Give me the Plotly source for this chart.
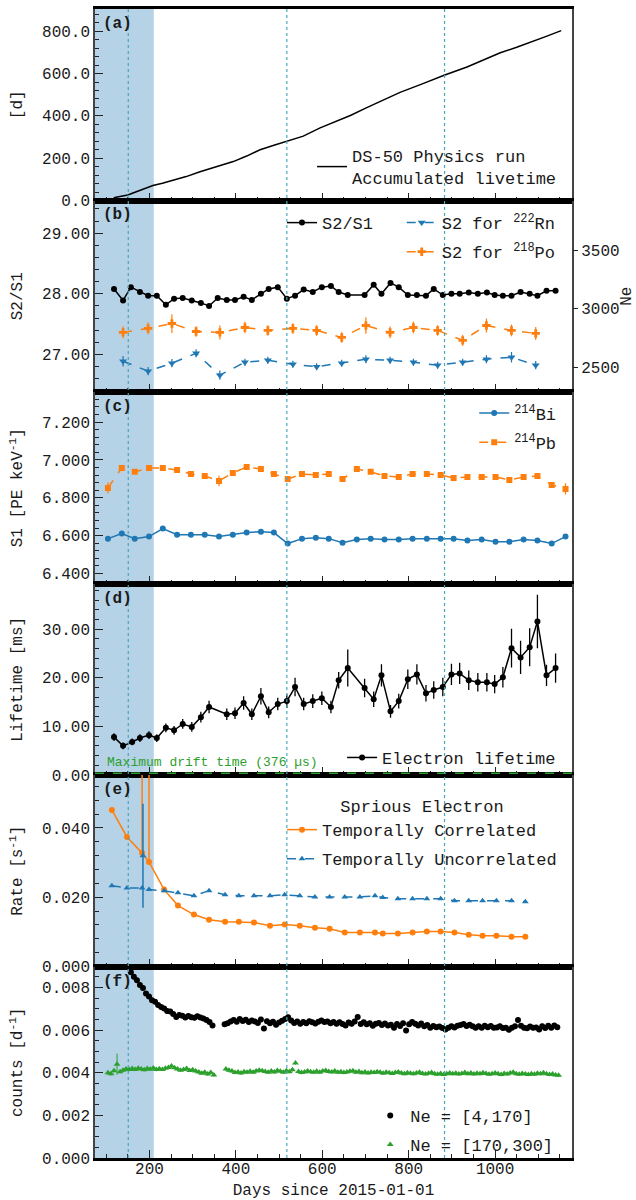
import plotly.graph_objects as go
from plotly.subplots import make_subplots

# ---------------- data ----------------
# (a) accumulated livetime
days_a = [108, 113, 120, 130, 143, 150, 165, 180, 194, 208, 230, 254, 285, 317, 355, 394, 425, 456,
          490, 518, 556, 595, 625, 665, 703, 740, 780, 830, 882, 935, 975, 1012, 1050, 1088, 1120, 1153]
livetime = [0, 2, 14, 18, 22, 26, 38, 50, 62, 71, 82, 95, 113, 136, 158, 184, 210, 240,
            262, 280, 304, 343, 367, 402, 439, 473, 511, 550, 592, 631, 665, 698, 724, 751, 777, 803]

# (b) S2/S1 and S2 (Ne)
days_b = [118, 139, 157, 178, 197, 217, 238, 257, 277, 298, 319, 338, 358, 379, 398, 418, 437, 458,
          476, 497, 518, 537, 557, 578, 599, 620, 638, 659, 698, 719, 737, 758, 777, 798, 819, 840,
          858, 879, 899, 918, 939, 960, 981, 999, 1018, 1038, 1059, 1080, 1098, 1119, 1140]
s2s1 = [28.08, 27.89, 28.11, 28.03, 27.97, 27.97, 27.82, 27.92, 27.93, 27.89, 27.85, 27.80, 27.93,
        27.90, 27.90, 27.95, 27.90, 28.00, 28.08, 28.11, 27.92, 27.97, 28.07, 28.03, 28.11, 28.13,
        28.03, 27.98, 27.98, 28.15, 28.00, 28.18, 28.11, 27.98, 27.98, 27.97, 28.08, 27.98, 28.00,
        28.00, 28.02, 28.00, 28.02, 27.98, 27.97, 27.97, 28.03, 28.00, 27.97, 28.05, 28.05]
days_s2 = [139, 197, 252, 308, 363, 421, 474, 532, 587, 645, 701, 757, 811, 867, 925, 980, 1038, 1094]
s2_po = [2797, 2831, 2873, 2805, 2797, 2839, 2814, 2831, 2814, 2754, 2856, 2797, 2839, 2814, 2729,
         2856, 2814, 2788]
s2_po_err = [50, 50, 80, 45, 60, 50, 45, 45, 45, 45, 70, 50, 50, 45, 45, 60, 50, 55]
s2_rn = [2551, 2466, 2534, 2619, 2432, 2542, 2559, 2525, 2504, 2534, 2568, 2559, 2542, 2517, 2542,
         2568, 2585, 2517]
s2_rn_err = [45, 35, 35, 35, 40, 30, 30, 30, 30, 30, 35, 30, 30, 30, 30, 35, 45, 35]

# (c) S1 light yield
days_c = [104, 136, 166, 199, 231, 264, 296, 328, 361, 393, 425, 458, 488, 520, 553, 585, 615,
          647, 680, 712, 744, 777, 809, 842, 874, 904, 936, 969, 1001, 1033, 1066, 1098, 1131, 1163]
s1_pb = [6.852, 6.958, 6.937, 6.958, 6.958, 6.947, 6.926, 6.915, 6.889, 6.931, 6.963, 6.952, 6.926,
         6.899, 6.926, 6.920, 6.926, 6.899, 6.952, 6.937, 6.915, 6.910, 6.926, 6.926, 6.920, 6.905,
         6.910, 6.910, 6.910, 6.894, 6.910, 6.915, 6.868, 6.847]
s1_pb_err = [0.030, 0.012, 0.010, 0.010, 0.010, 0.010, 0.010, 0.012, 0.028, 0.012, 0.010, 0.010,
             0.010, 0.012, 0.010, 0.010, 0.010, 0.012, 0.010, 0.010, 0.010, 0.010, 0.010, 0.010,
             0.010, 0.010, 0.010, 0.010, 0.010, 0.012, 0.010, 0.010, 0.012, 0.030]
s1_bi = [6.584, 6.611, 6.584, 6.595, 6.637, 6.605, 6.605, 6.605, 6.595, 6.605, 6.616, 6.621, 6.616,
         6.558, 6.584, 6.589, 6.584, 6.563, 6.579, 6.584, 6.579, 6.579, 6.584, 6.584, 6.584, 6.584,
         6.574, 6.579, 6.568, 6.568, 6.579, 6.574, 6.558, 6.595]

# (d) electron lifetime
days_d = [118, 139, 160, 178, 199, 217, 238, 257, 277, 298, 319, 338, 379, 398, 418, 437, 458, 476,
          497, 518, 537, 557, 578, 599, 620, 638, 659, 698, 719, 737, 758, 777, 798, 819, 840, 858,
          879, 899, 918, 939, 960, 981, 999, 1018, 1038, 1059, 1080, 1098, 1119, 1140]
lifetime = [7.8, 6.0, 6.8, 7.6, 8.2, 7.6, 9.7, 9.2, 10.5, 9.9, 11.9, 14.0, 12.5, 12.7, 14.8, 12.5,
            16.2, 12.9, 14.6, 15.2, 18.1, 14.6, 15.2, 15.8, 14.0, 19.5, 22.0, 17.9, 15.6, 20.5, 13.1,
            15.2, 19.7, 20.7, 16.8, 17.5, 18.1, 20.7, 20.9, 19.5, 19.1, 19.1, 18.7, 20.1, 26.1, 24.2,
            26.3, 31.6, 20.5, 22.0]
lifetime_err = [0.8, 0.7, 0.7, 0.8, 0.8, 0.8, 0.9, 0.9, 1.0, 1.0, 1.1, 1.3, 1.2, 1.2, 1.4, 1.2, 1.7,
                1.2, 1.3, 1.4, 1.9, 1.3, 1.4, 1.4, 1.3, 1.7, 3.8, 1.9, 1.6, 2.3, 1.3, 1.5, 2.0, 2.1,
                1.7, 1.8, 1.9, 2.2, 2.2, 2.0, 1.9, 1.9, 1.9, 2.1, 4.0, 3.4, 3.9, 5.5, 2.2, 3.0]
max_drift_ms = 0.376

# (e) spurious electron rates
days_e = [113, 148, 183, 199, 234, 266, 303, 338, 375, 407, 442, 479, 513, 548, 583, 617, 652, 687,
          722, 740, 775, 809, 842, 874, 906, 939, 971, 1003, 1038, 1070]
rate_corr = [0.0452, 0.0374, 0.0328, 0.0302, 0.0222, 0.0176, 0.0150, 0.0135, 0.0129, 0.0129, 0.0127,
             0.0118, 0.0121, 0.0118, 0.0112, 0.0109, 0.0098, 0.0098, 0.0098, 0.0095, 0.0095, 0.0098,
             0.0101, 0.0101, 0.0098, 0.0092, 0.0089, 0.0089, 0.0086, 0.0086]
rate_corr_err_up = [0, 0, 0.06, 0.06, 0, 0, 0, 0, 0, 0, 0, 0, 0, 0, 0, 0, 0, 0, 0, 0, 0, 0, 0, 0,
                    0, 0, 0, 0, 0, 0]
rate_uncorr = [0.0233, 0.0227, 0.0227, 0.0222, 0.0219, 0.0213, 0.0204, 0.0219, 0.0207, 0.0204,
               0.0204, 0.0204, 0.0207, 0.0204, 0.0201, 0.0201, 0.0201, 0.0201, 0.0204, 0.0199,
               0.0196, 0.0196, 0.0196, 0.0196, 0.0190, 0.0190, 0.0190, 0.0190, 0.0190, 0.0187]
days_e_extra = [185]
rate_uncorr_extra = [0.032]
rate_uncorr_extra_err = [0.015]

# (f) counts per day
days_f_low = [d for d in range(150, 1145, 7) if not 350 < d < 372]
counts_low = [0.00895, 0.00872, 0.00851, 0.00834, 0.00812, 0.00798, 0.00772, 0.00758, 0.00741, 0.00733,
              0.00718, 0.00709, 0.00702, 0.00690, 0.00688, 0.00676, 0.00662, 0.00671, 0.00668, 0.00659,
              0.00667, 0.00661, 0.00658, 0.00666, 0.00660, 0.00655, 0.00648, 0.00638, 0.00622,
              0.00628, 0.00633, 0.00641, 0.00648, 0.00640, 0.00652, 0.00643, 0.00649, 0.00638, 0.00646,
              0.00641, 0.00634, 0.00650, 0.00608, 0.00642, 0.00632, 0.00640, 0.00626, 0.00636, 0.00644,
              0.00652, 0.00661, 0.00645, 0.00634, 0.00641, 0.00630, 0.00639, 0.00633, 0.00642, 0.00637,
              0.00631, 0.00640, 0.00646, 0.00638, 0.00641, 0.00632, 0.00639, 0.00630, 0.00637, 0.00629,
              0.00622, 0.00636, 0.00630, 0.00641, 0.00662, 0.00629, 0.00637, 0.00628, 0.00633, 0.00621,
              0.00630, 0.00634, 0.00624, 0.00631, 0.00622, 0.00626, 0.00612, 0.00629, 0.00620, 0.00632,
              0.00598, 0.00628, 0.00638, 0.00630, 0.00622, 0.00631, 0.00619, 0.00624, 0.00612, 0.00620,
              0.00614, 0.00617, 0.00610, 0.00603, 0.00611, 0.00618, 0.00613, 0.00621, 0.00624, 0.00629,
              0.00620, 0.00626, 0.00618, 0.00611, 0.00619, 0.00612, 0.00621, 0.00614, 0.00620, 0.00611,
              0.00613, 0.00619, 0.00610, 0.00612, 0.00602, 0.00611, 0.00618, 0.00648, 0.00621, 0.00612,
              0.00609, 0.00617, 0.00611, 0.00613, 0.00603, 0.00619, 0.00610, 0.00621, 0.00612, 0.00622,
              0.00614]
days_f_high = [d for d in range(104, 1150, 7) if not 352 < d < 373]
counts_high = [0.00400, 0.00395, 0.00410, 0.00440, 0.00405, 0.00412, 0.00418, 0.00415, 0.00420, 0.00416,
               0.00421, 0.00418, 0.00414, 0.00420, 0.00417, 0.00422, 0.00415, 0.00419, 0.00416, 0.00421,
               0.00425, 0.00432, 0.00424, 0.00418, 0.00412, 0.00416, 0.00420, 0.00411, 0.00414, 0.00409,
               0.00404, 0.00398, 0.00402, 0.00394, 0.00401, 0.00390,
               0.00418, 0.00412, 0.00408, 0.00401, 0.00404, 0.00399, 0.00405, 0.00402, 0.00407, 0.00403,
               0.00409, 0.00412, 0.00410, 0.00406, 0.00402, 0.00408, 0.00404, 0.00411, 0.00407, 0.00403,
               0.00410, 0.00405, 0.00414, 0.00446, 0.00406, 0.00401, 0.00404, 0.00409, 0.00405, 0.00402,
               0.00407, 0.00403, 0.00409, 0.00411, 0.00406, 0.00404, 0.00408, 0.00402, 0.00405, 0.00401,
               0.00404, 0.00407, 0.00410, 0.00403, 0.00406, 0.00400, 0.00404, 0.00399, 0.00403, 0.00401,
               0.00405, 0.00402, 0.00398, 0.00403, 0.00400, 0.00397, 0.00401, 0.00404, 0.00399, 0.00396,
               0.00400, 0.00398, 0.00395, 0.00399, 0.00402, 0.00397, 0.00394, 0.00398, 0.00401, 0.00396,
               0.00393, 0.00397, 0.00392, 0.00396, 0.00399, 0.00395, 0.00398, 0.00394, 0.00397, 0.00401,
               0.00396, 0.00399, 0.00394, 0.00398, 0.00395, 0.00400, 0.00397, 0.00393, 0.00396, 0.00399,
               0.00395, 0.00392, 0.00397, 0.00394, 0.00399, 0.00403, 0.00396, 0.00393, 0.00397, 0.00394,
               0.00392, 0.00396, 0.00393, 0.00398, 0.00395, 0.00400, 0.00396, 0.00392, 0.00394, 0.00390,
               0.00388]
counts_high_err = [0.00008] * 3 + [0.0005] + [0.00008] * (len(counts_high) - 4)

# special periods
shade_days = [74, 210]
marker_days = [151, 518, 883]

# ---------------- style ----------------
FONT = "Liberation Mono, Courier New, monospace"
TXT = "#1a1a1a"
BLUE = "#1f77b4"
ORANGE = "#ff7f0e"
GREEN = "#2ca02c"
BLACK = "black"

fig = make_subplots(rows=6, cols=1, shared_xaxes=True, vertical_spacing=0,
                    specs=[[{}], [{"secondary_y": True}], [{}], [{}], [{}], [{}]])

# (a)
fig.add_trace(go.Scatter(x=days_a, y=livetime, mode="lines", line=dict(color=BLACK, width=1.5),
                         name="DS-50 Physics run<br>Accumulated livetime", legend="legend"), row=1, col=1)

# (b)
fig.add_trace(go.Scatter(x=days_b, y=s2s1, mode="lines+markers", name="S2/S1",
                         line=dict(color=BLACK, width=1.5), marker=dict(color=BLACK, size=6),
                         error_y=dict(type="constant", value=0.02, color=BLACK, thickness=1.2, width=0),
                         legend="legend2"), row=2, col=1, secondary_y=False)
fig.add_trace(go.Scatter(x=days_s2, y=s2_rn, mode="lines+markers", name="S2 for <sup>222</sup>Rn",
                         line=dict(color=BLUE, width=1.5, dash="dash"),
                         marker=dict(color=BLUE, size=7, symbol="triangle-down"),
                         error_y=dict(type="data", array=s2_rn_err, color=BLUE, thickness=1.2, width=0),
                         legend="legend3", legendgroup="rn"), row=2, col=1, secondary_y=True)
fig.add_trace(go.Scatter(x=days_s2, y=s2_po, mode="lines+markers", name="S2 for <sup>218</sup>Po",
                         line=dict(color=ORANGE, width=1.5, dash="dash"),
                         marker=dict(color=ORANGE, size=7, symbol="cross"),
                         error_y=dict(type="data", array=s2_po_err, color=ORANGE, thickness=1.2, width=0),
                         legend="legend3", legendgroup="po"), row=2, col=1, secondary_y=True)

# (c)
fig.add_trace(go.Scatter(x=days_c, y=s1_bi, mode="lines+markers", name="<sup>214</sup>Bi",
                         line=dict(color=BLUE, width=1.5), marker=dict(color=BLUE, size=6),
                         error_y=dict(type="constant", value=0.006, color=BLUE, thickness=1.2, width=0),
                         legend="legend4", legendgroup="bi"), row=3, col=1)
fig.add_trace(go.Scatter(x=days_c, y=s1_pb, mode="lines+markers", name="<sup>214</sup>Pb",
                         line=dict(color=ORANGE, width=1.5, dash="dash"),
                         marker=dict(color=ORANGE, size=6, symbol="square"),
                         error_y=dict(type="data", array=s1_pb_err, color=ORANGE, thickness=1.2, width=0),
                         legend="legend4", legendgroup="pb"), row=3, col=1)

# (d)
fig.add_trace(go.Scatter(x=days_d, y=lifetime, mode="lines+markers", name="Electron lifetime",
                         line=dict(color=BLACK, width=1.5), marker=dict(color=BLACK, size=6),
                         error_y=dict(type="data", array=lifetime_err, color=BLACK, thickness=1.3, width=0),
                         legend="legend5"), row=4, col=1)
fig.add_hline(y=max_drift_ms, row=4, col=1, line=dict(color=GREEN, width=1.5, dash="dash"))
fig.add_annotation(row=4, col=1, xref="x domain", x=0.02, y=max_drift_ms, yanchor="bottom", xanchor="left",
                   text="Maximum drift time (376 µs)", showarrow=False, yshift=1,
                   font=dict(family=FONT, size=13, color=GREEN))

# (e)
fig.add_trace(go.Scatter(x=days_e, y=rate_corr, mode="lines+markers", name="Temporally Correlated",
                         line=dict(color=ORANGE, width=1.5), marker=dict(color=ORANGE, size=6),
                         error_y=dict(type="data", symmetric=False, array=rate_corr_err_up,
                                      arrayminus=[0] * len(rate_corr), color=ORANGE, thickness=1.5, width=0),
                         legend="legend6", legendgroup="corr"), row=5, col=1)
fig.add_trace(go.Scatter(x=days_e, y=rate_uncorr, mode="lines+markers", name="Temporally Uncorrelated",
                         line=dict(color=BLUE, width=1.5, dash="dash"),
                         marker=dict(color=BLUE, size=6, symbol="triangle-up"),
                         legend="legend6", legendgroup="uncorr"), row=5, col=1)
fig.add_trace(go.Scatter(x=days_e_extra, y=rate_uncorr_extra, mode="markers", showlegend=False,
                         marker=dict(color=BLUE, size=6, symbol="triangle-up"),
                         error_y=dict(type="data", array=rate_uncorr_extra_err, color=BLUE, thickness=1.5, width=0)),
              row=5, col=1)

# (f)
fig.add_trace(go.Scatter(x=days_f_low, y=counts_low, mode="markers", name="Ne = [4,170]",
                         marker=dict(color=BLACK, size=6),
                         error_y=dict(type="constant", value=0.00012, color=BLACK, thickness=1, width=0),
                         legend="legend7", legendgroup="low"), row=6, col=1)
fig.add_trace(go.Scatter(x=days_f_high, y=counts_high, mode="markers", name="Ne = [170,300]",
                         marker=dict(color=GREEN, size=6, symbol="triangle-up"),
                         error_y=dict(type="data", array=counts_high_err, color=GREEN, thickness=1, width=0),
                         legend="legend7", legendgroup="high"), row=6, col=1)

# shaded commissioning period and marker lines
fig.add_shape(type="rect", xref="x", yref="paper", x0=shade_days[0], x1=shade_days[1], y0=0, y1=1,
              fillcolor="rgba(31,119,180,0.33)", line=dict(width=0), layer="below")
for d in marker_days:
    fig.add_shape(type="line", xref="x", yref="paper", x0=d, x1=d, y0=0, y1=1,
                  line=dict(color="#4aa6bd", width=1.2, dash="dot"), layer="above")

# panel labels
panel_tops = [1.0, 5 / 6, 4 / 6, 3 / 6, 2 / 6, 1 / 6]
for lab, top in zip("abcdef", panel_tops):
    fig.add_annotation(xref="paper", yref="paper", x=0.012, y=top, xanchor="left", yanchor="top",
                       yshift=-4, text=f"<b>({lab})</b>", showarrow=False,
                       font=dict(family=FONT, size=16, color=TXT))

# axes
tickfont = dict(family=FONT, size=16, color=TXT)
fig.update_xaxes(domain=[0, 1], range=[74, 1178], tick0=0, dtick=200, ticks="inside", ticklen=8,
                 tickwidth=1.3, tickcolor="#222", ticklabelstandoff=-6,
                 minor=dict(dtick=50, ticks="inside", ticklen=4, tickcolor="#222"),
                 showline=True, linewidth=3, linecolor="black", mirror=True, showgrid=False,
                 zeroline=False, tickfont=tickfont, automargin=False)
fig.update_xaxes(title=dict(text="Days since 2015-01-01", font=dict(family=FONT, size=16, color=TXT),
                            standoff=8), row=6, col=1)

common_y = dict(ticks="inside", ticklen=8, tickwidth=1.3, tickcolor="#222", showline=True,
                linewidth=1.5, linecolor="#444", mirror=True, showgrid=False, zeroline=False,
                tickfont=tickfont, automargin=False)
ytitle = lambda t: dict(text=t, font=dict(family=FONT, size=16, color=TXT))

fig.update_yaxes(row=1, col=1, range=[0, 905], tickvals=[0, 200, 400, 600, 800], tickformat=".1f",
                 minor=dict(dtick=40, ticks="inside", ticklen=4, tickcolor="#222"),
                 title=ytitle("[d]"), **common_y)
fig.update_yaxes(row=2, col=1, secondary_y=False, range=[26.38, 29.54], tickvals=[27, 28, 29],
                 tickformat=".2f", minor=dict(dtick=0.2, ticks="inside", ticklen=4, tickcolor="#222"),
                 title=ytitle("S2/S1"), **common_y)
fig.update_yaxes(row=2, col=1, secondary_y=True, range=[2288, 3924], tickvals=[2500, 3000, 3500],
                 ticks="outside", ticklen=5, tickcolor="#222", showgrid=False, zeroline=False,
                 showline=False, tickfont=tickfont, automargin=False,
                 title=dict(text="Ne", standoff=4, font=dict(family=FONT, size=16, color=TXT)))
fig.update_yaxes(row=3, col=1, range=[6.347, 7.359], tickvals=[6.4, 6.6, 6.8, 7.0, 7.2], tickformat=".3f",
                 minor=dict(dtick=0.04, ticks="inside", ticklen=4, tickcolor="#222"),
                 title=ytitle("S1 [PE keV<sup>-1</sup>]"), **common_y)
fig.update_yaxes(row=4, col=1, range=[0, 39.4], tickvals=[0, 10, 20, 30], tickformat=".2f",
                 minor=dict(dtick=2, ticks="inside", ticklen=4, tickcolor="#222"),
                 title=ytitle("Lifetime [ms]"), **common_y)
fig.update_yaxes(row=5, col=1, range=[0, 0.0553], tickvals=[0, 0.02, 0.04], tickformat=".3f",
                 minor=dict(dtick=0.004, ticks="inside", ticklen=4, tickcolor="#222"),
                 title=ytitle("Rate [s<sup>-1</sup>]"), **common_y)
fig.update_yaxes(row=6, col=1, range=[0, 0.00899], tickvals=[0, 0.002, 0.004, 0.006, 0.008],
                 tickformat=".3f", minor=dict(dtick=0.0005, ticks="inside", ticklen=4, tickcolor="#222"),
                 title=ytitle("counts [d<sup>-1</sup>]"), **common_y)

legfont = dict(family=FONT, size=17, color=TXT)
leg_common = dict(font=legfont, bgcolor="rgba(0,0,0,0)", borderwidth=0, itemwidth=30,
                  xanchor="left", tracegroupgap=4)
fig.update_layout(
    width=636, height=1200, margin=dict(l=95, r=64, t=9, b=42, autoexpand=False),
    plot_bgcolor="white", paper_bgcolor="white", font=dict(family=FONT, color=TXT),
    legend=dict(x=0.455, y=0.8625, yanchor="middle", **leg_common),
    legend2=dict(x=0.392, y=0.8137, yanchor="middle", **leg_common),
    legend3=dict(x=0.643, y=0.8011, yanchor="middle", **leg_common),
    legend4=dict(x=0.795, y=0.6353, yanchor="middle", **leg_common),
    legend5=dict(x=0.518, y=0.3482, yanchor="middle", **leg_common),
    legend6=dict(x=0.392, y=0.3203, yanchor="top",
                 title=dict(text="Sprious Electron", side="top center", font=legfont), **leg_common),
    legend7=dict(x=0.577, y=0.024, yanchor="middle", **leg_common),
)

fig.write_html("out.html")
